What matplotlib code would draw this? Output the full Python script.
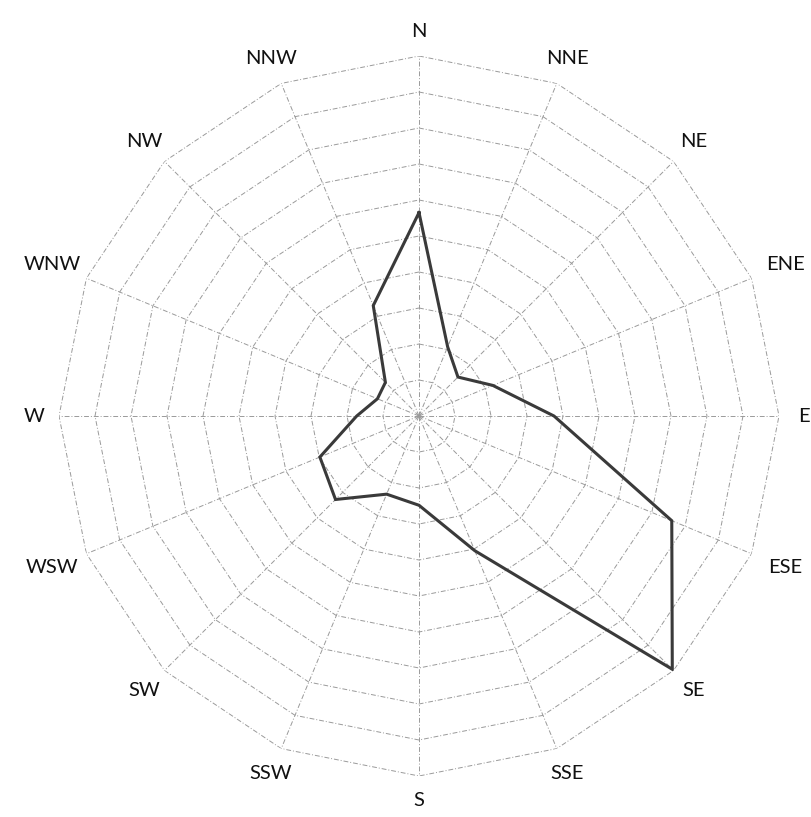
import numpy as np
import matplotlib
matplotlib.use("Agg")
import matplotlib.pyplot as plt

# wind directions, clockwise from north
directions = ["N", "NNE", "NE", "ENE", "E", "ESE", "SE", "SSE",
              "S", "SSW", "SW", "WSW", "W", "WNW", "NW", "NNW"]
# values (ring units, 0-10)
values = [5.65, 2.08, 1.53, 2.22, 3.75, 7.6, 9.95, 4.05,
          2.48, 2.35, 3.28, 2.98, 1.73, 1.25, 1.32, 3.32]
rings = [1, 2, 3, 4, 5, 6, 7, 8, 9, 10]

theta = np.deg2rad(np.arange(len(directions)) * 22.5)
theta_closed = np.append(theta, theta[0])
values_closed = np.append(values, values[0])

W, H = 811, 817
fig = plt.figure(figsize=(W / 100, H / 100), dpi=100)
cx, cy, R = 419, 416, 360
ax = fig.add_axes([(cx - R) / W, (H - cy - R) / H, 2 * R / W, 2 * R / H], projection="polar")
ax.set_theta_zero_location("N")
ax.set_theta_direction(-1)
ax.set_ylim(0, rings[-1])
ax.grid(False)
ax.spines["polar"].set_visible(False)
ax.set_xticks([])
ax.set_yticks([])
ax.patch.set_alpha(0)

grid_style = dict(color="#9a9a9a", lw=0.7, ls=(0, (5, 2, 1, 2)), zorder=1)

# polygon rings
for k in rings:
    ax.plot(theta_closed, [k] * len(theta_closed), **grid_style)

# spokes
for t in theta:
    ax.plot([t, t], [0, rings[-1]], **grid_style)

# data
ax.plot(theta_closed, values_closed, color="#3a3a3a", lw=2.2, zorder=3,
        solid_joinstyle="miter")

# direction labels
for t, lab in zip(theta, directions):
    r = 10.68 + 0.2 * np.sin(t) ** 2 * (len(lab) - 1)
    ax.text(t, r, lab, ha="center", va="center", fontsize=14.5,
            family=["Lato", "DejaVu Sans"], color="#111111", clip_on=False)

fig.savefig("out.png", dpi=100, facecolor="white")
